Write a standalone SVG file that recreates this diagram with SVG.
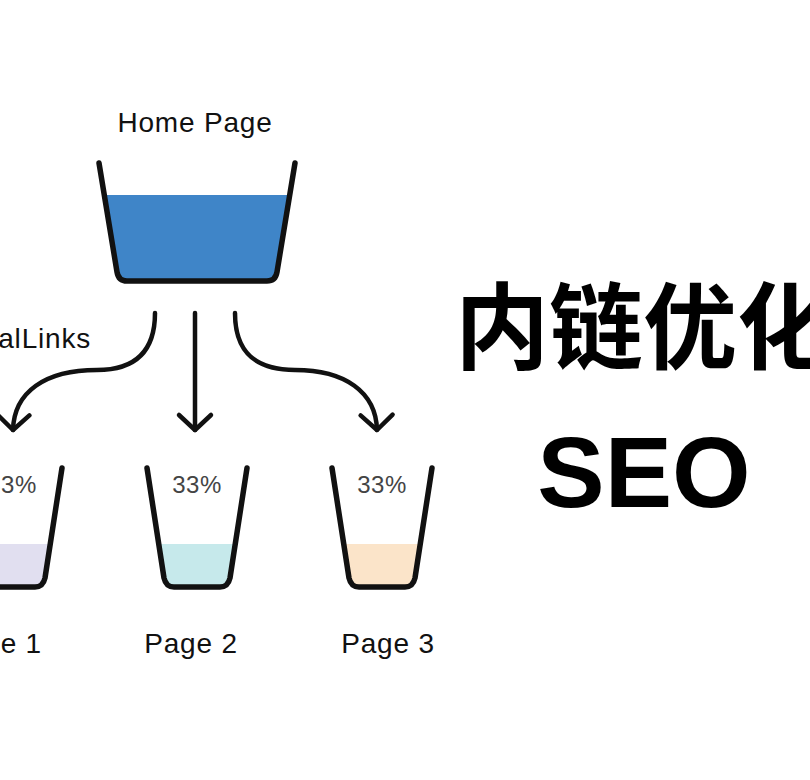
<svg xmlns="http://www.w3.org/2000/svg" width="810" height="780" viewBox="0 0 810 780">
<defs>
<style>
.lbl{font-family:"Liberation Sans",Arial,sans-serif;fill:#111;font-size:28px;letter-spacing:0.8px}
.pct{font-family:"Liberation Sans",Arial,sans-serif;fill:#444;font-size:24px;letter-spacing:0.5px;text-anchor:middle}
.cup{fill:none;stroke:#111;stroke-width:5.5;stroke-linejoin:round;stroke-linecap:round}
.link{fill:none;stroke:#111;stroke-width:4.5;stroke-linecap:round}
</style>
<marker id="ah" markerUnits="userSpaceOnUse" markerWidth="40" markerHeight="40" viewBox="-20 -20 40 40" refX="0" refY="0" orient="auto">
<path d="M-15,-16 L0,0 L-15,16" fill="none" stroke="#111" stroke-width="4.5" stroke-linecap="round" stroke-linejoin="round"/>
</marker>
</defs>
<rect width="810" height="780" fill="#fff"/>
<g id="home">
<text class="lbl" x="195" y="132" text-anchor="middle">Home Page</text>
<path d="M104.3,195 L117,272 Q118.5,281 127,281 L267,281 Q275.5,281 277,272 L289.7,195 Z" fill="#3f85c8"/>
<path class="cup" d="M99,163 L117,272 Q118.5,281 127,281 L267,281 Q275.5,281 277,272 L295,163" stroke-width="6"/>
</g>
<g id="connectors">
<path class="link" d="M155,313 C155,352 135,370 97,370 C45,370 14,392 13,430" marker-end="url(#ah)"/>
<path class="link" d="M195,313 L195,430" marker-end="url(#ah)"/>
<path class="link" d="M235,313 C235,352 255,370 295,370 C345,370 376,392 377,430" marker-end="url(#ah)"/>
<text class="lbl" x="91" y="348" text-anchor="end">alLinks</text>
</g>
<g id="page1" transform="translate(12,468)">
<path d="M-38,76 L-33,110 Q-31,119 -23,119 L23,119 Q31,119 33,110 L38,76 Z" fill="#e1dff0"/>
<path class="cup" d="M-50,0 L-33,110 Q-31,119 -23,119 L23,119 Q31,119 33,110 L50,0"/>
<text class="pct" x="0" y="25">33%</text>
<text class="lbl" x="30" y="185" text-anchor="end">e 1</text>
</g>
<g id="page2" transform="translate(197,468)">
<path d="M-38,76 L-33,110 Q-31,119 -23,119 L23,119 Q31,119 33,110 L38,76 Z" fill="#c6e9eb"/>
<path class="cup" d="M-50,0 L-33,110 Q-31,119 -23,119 L23,119 Q31,119 33,110 L50,0"/>
<text class="pct" x="0" y="25">33%</text>
<text class="lbl" x="-6" y="185" text-anchor="middle">Page 2</text>
</g>
<g id="page3" transform="translate(382,468)">
<path d="M-38,76 L-33,110 Q-31,119 -23,119 L23,119 Q31,119 33,110 L38,76 Z" fill="#fbe4c9"/>
<path class="cup" d="M-50,0 L-33,110 Q-31,119 -23,119 L23,119 Q31,119 33,110 L50,0"/>
<text class="pct" x="0" y="25">33%</text>
<text class="lbl" x="6" y="185" text-anchor="middle">Page 3</text>
</g>
<g id="title">
<text x="455" y="362" font-family="'Noto Sans CJK SC',sans-serif" font-weight="bold" font-size="94" fill="#000">内链优化</text>
<text x="644" y="507" text-anchor="middle" font-family="'Liberation Sans',Arial,sans-serif" font-weight="bold" font-size="101" fill="#000">SEO</text>
</g>
</svg>
